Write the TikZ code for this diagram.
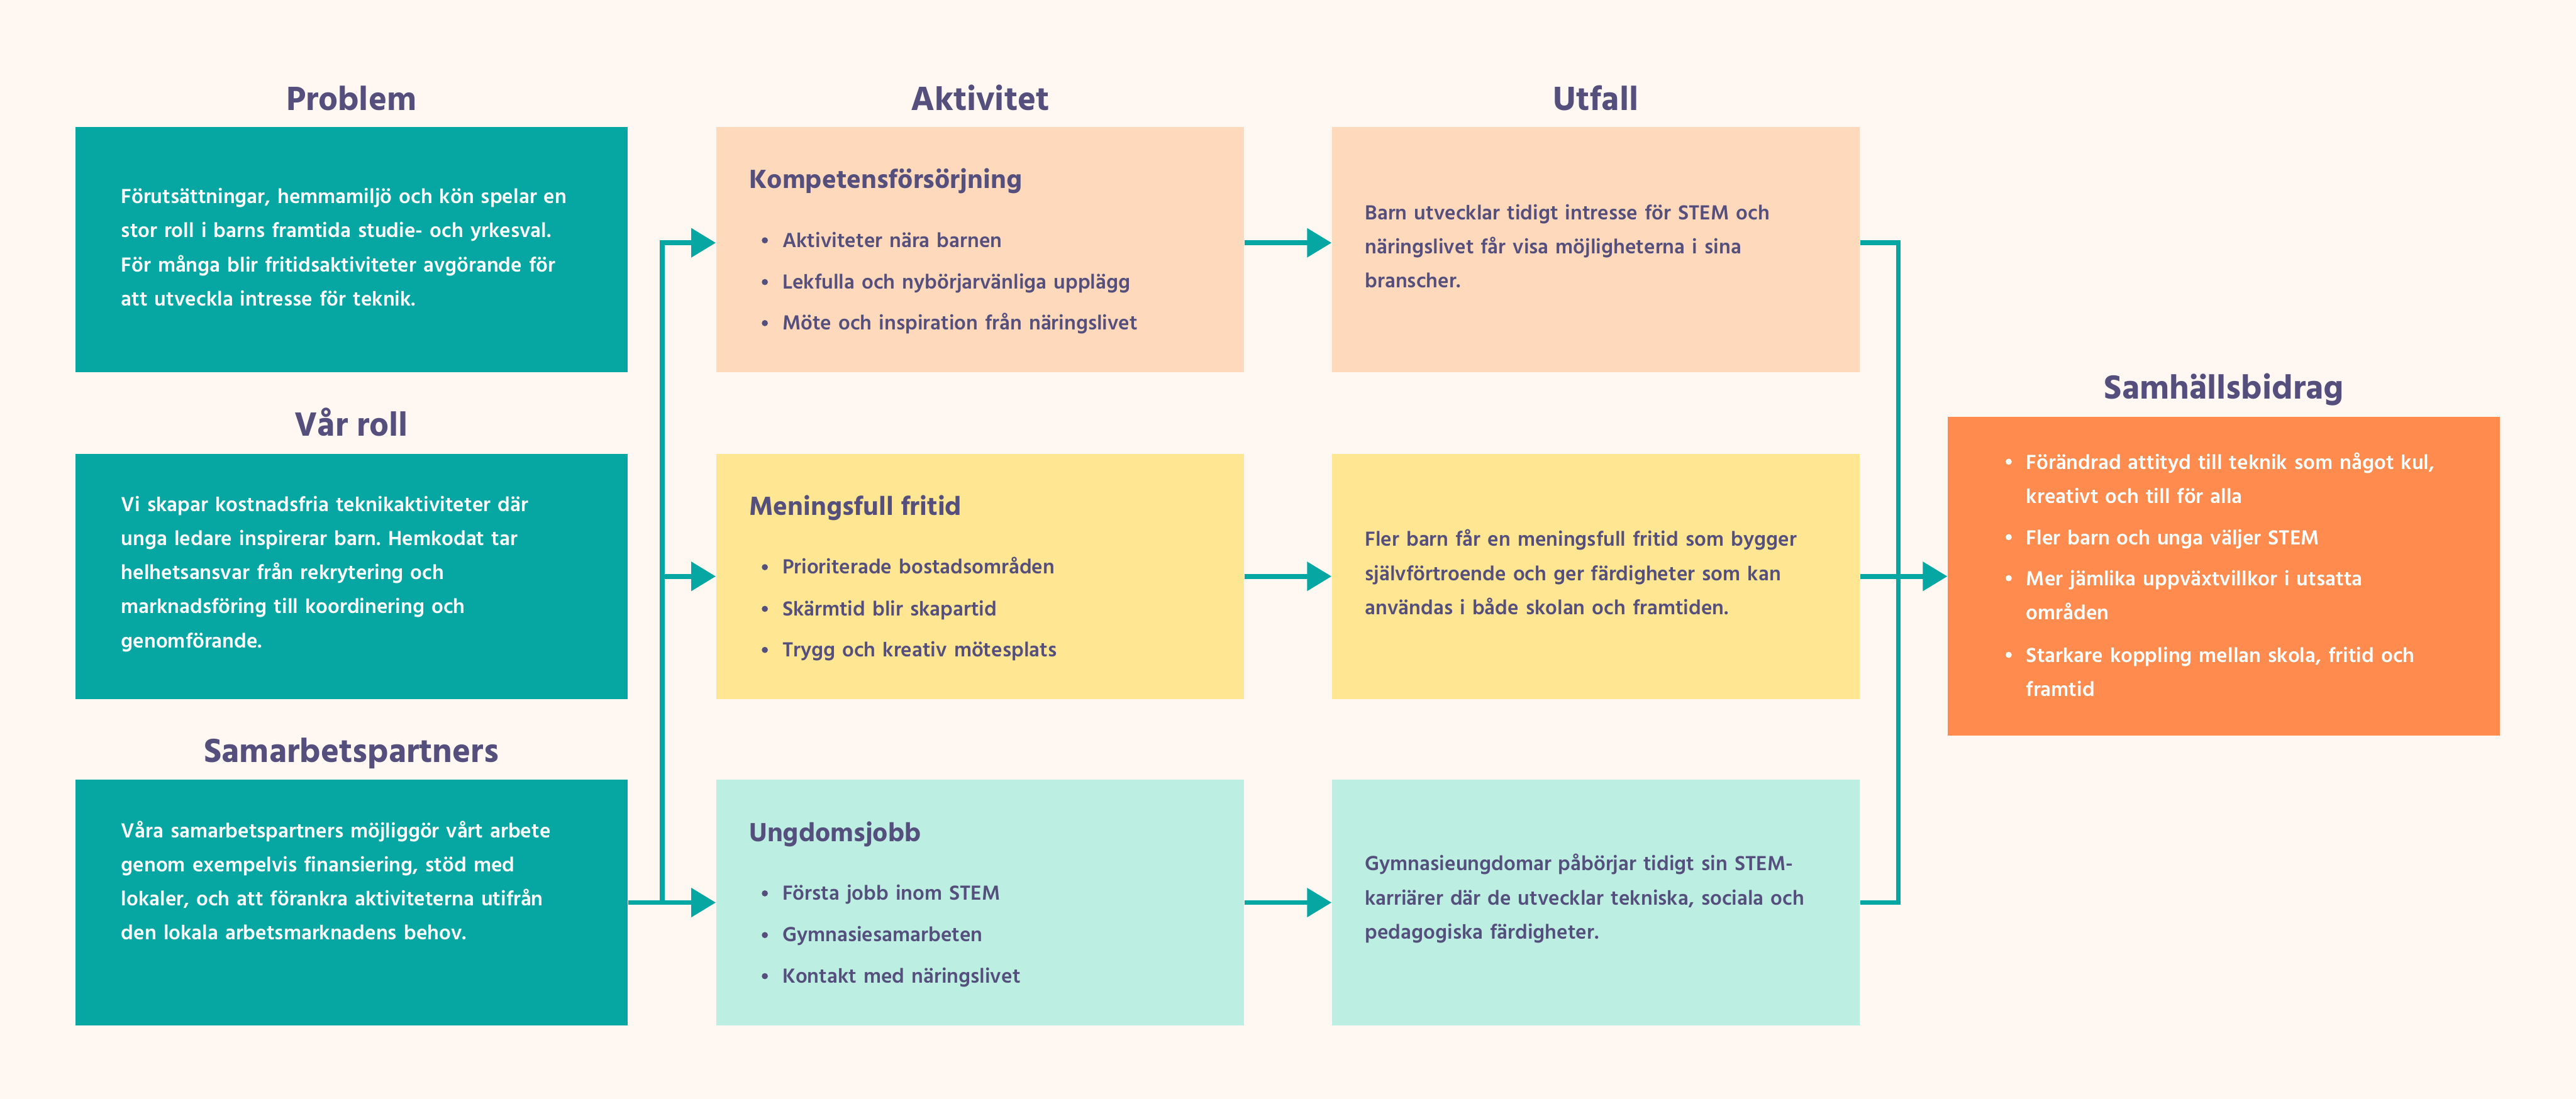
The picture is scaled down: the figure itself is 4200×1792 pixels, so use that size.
\documentclass[tikz,border=0pt]{standalone}
\usepackage{fontspec}
\setmainfont{Hind Siliguri}
\newfontfamily\semifont{Hind Siliguri SemiBold}
\newfontfamily\heavyfont{Hind Siliguri Bold}
\usetikzlibrary{arrows.meta}
\frenchspacing
\definecolor{bgc}{HTML}{FFF7F1}
\definecolor{tealc}{HTML}{06A6A3}
\definecolor{ink}{HTML}{554F7D}
\definecolor{peach}{HTML}{FED9BB}
\definecolor{sun}{HTML}{FFE692}
\definecolor{mint}{HTML}{BDEEE2}
\definecolor{orng}{HTML}{FF8C4E}
\tikzset{
  box/.style={rectangle, inner sep=0pt, draw=none},
  leftbox/.style={box, fill=tealc, minimum width=9cm, minimum height=4cm},
  midbox/.style={box, minimum width=8.6cm, minimum height=4cm},
  colhead/.style={anchor=base, inner sep=0pt, text=ink, font=\heavyfont\fontsize{16pt}{19pt}\selectfont},
  subhead/.style={anchor=base west, inner sep=0pt, text=ink, font=\heavyfont\fontsize{12.5pt}{15pt}\selectfont},
  bodytext/.style={anchor=base west, inner sep=0pt, align=left, text width=8.6cm, font=\semifont\fontsize{9.7pt}{15.8pt}\selectfont\frenchspacing},
  itemtext/.style={anchor=base west, inner sep=0pt, align=left, text width=8cm, font=\semifont\fontsize{9.7pt}{15.8pt}\selectfont\frenchspacing},
  conn/.style={draw=tealc, line width=0.08cm},
  arr/.style={conn, -{Triangle[length=0.4cm, width=0.46cm]}},
}
\begin{document}
\begin{tikzpicture}[x=0.01cm, y=-0.01cm]
\fill[bgc] (0,0) rectangle (4200,1792);
\useasboundingbox (0,0) rectangle (4200,1792);

% column headings
\node[colhead] (hp) at (573,180) {Problem};
\node[colhead] (hv) at (573,711) {Vår roll};
\node[colhead] (hs) at (573,1243) {Samarbetspartners};
\node[colhead] (ha) at (1598,180) {Aktivitet};
\node[colhead] (hu) at (2602,180) {Utfall};
\node[colhead] (hb) at (3626,651) {Samhällsbidrag};

% boxes
\node[leftbox] (p) at (573,407) {};
\node[leftbox] (v) at (573,940) {};
\node[leftbox] (s) at (573,1472) {};
\node[midbox, fill=peach] (k1) at (1598,407) {};
\node[midbox, fill=sun] (k2) at (1598,940) {};
\node[midbox, fill=mint] (k3) at (1598,1472) {};
\node[midbox, fill=peach] (o1) at (2602,407) {};
\node[midbox, fill=sun] (o2) at (2602,940) {};
\node[midbox, fill=mint] (o3) at (2602,1472) {};
\node[box, fill=orng, minimum width=9cm, minimum height=5.2cm] (sb) at (3626,940) {};

% left column texts
\node[bodytext, text=white] (tp) at (197,332) {Förutsättningar, hemmamiljö och kön spelar en\\stor roll i barns framtida studie- och yrkesval.\\För många blir fritidsaktiviteter avgörande för\\att utveckla intresse för teknik.};
\node[bodytext, text=white] (tv) at (197,834) {Vi skapar kostnadsfria teknikaktiviteter där\\unga ledare inspirerar barn. Hemkodat tar\\helhetsansvar från rekrytering och\\marknadsföring till koordinering och\\genomförande.};
\node[bodytext, text=white] (ts) at (197,1366) {Våra samarbetspartners möjliggör vårt arbete\\genom exempelvis finansiering, stöd med\\lokaler, och att förankra aktiviteterna utifrån\\den lokala arbetsmarknadens behov.};

% activity column
\node[subhead] (k1h) at (1221,307) {Kompetensförsörjning};
\node[itemtext, text=ink] (k1a) at (1275,403) {Aktiviteter nära barnen};
\node[itemtext, text=ink] (k1b) at (1275,471) {Lekfulla och nybörjarvänliga upplägg};
\node[itemtext, text=ink] (k1c) at (1275,538) {Möte och inspiration från näringslivet};
\node[subhead] (k2h) at (1221,840) {Meningsfull fritid};
\node[itemtext, text=ink] (k2a) at (1275,936) {Prioriterade bostadsområden};
\node[itemtext, text=ink] (k2b) at (1275,1004) {Skärmtid blir skapartid};
\node[itemtext, text=ink] (k2c) at (1275,1071) {Trygg och kreativ mötesplats};
\node[subhead] (k3h) at (1221,1372) {Ungdomsjobb};
\node[itemtext, text=ink] (k3a) at (1275,1468) {Första jobb inom STEM};
\node[itemtext, text=ink] (k3b) at (1275,1536) {Gymnasiesamarbeten};
\node[itemtext, text=ink] (k3c) at (1275,1603) {Kontakt med näringslivet};
\foreach \yy in {392,460,527,925,993,1060,1457,1525,1592}
  \fill[ink] (1247,\yy) circle[radius=0.05cm];

% outcome column
\node[bodytext, text=ink] (to1) at (2225,358) {Barn utvecklar tidigt intresse för STEM och\\näringslivet får visa möjligheterna i sina\\branscher.};
\node[bodytext, text=ink] (to2) at (2225,891) {Fler barn får en meningsfull fritid som bygger\\självförtroende och ger färdigheter som kan\\användas i både skolan och framtiden.};
\node[bodytext, text=ink] (to3) at (2225,1420) {Gymnasieungdomar påbörjar tidigt sin STEM-\\karriärer där de utvecklar tekniska, sociala och\\pedagogiska färdigheter.};

% societal contribution
\node[itemtext, text=white] (b1) at (3303,765) {Förändrad attityd till teknik som något kul,\\kreativt och till för alla};
\node[itemtext, text=white] (b2) at (3303,888) {Fler barn och unga väljer STEM};
\node[itemtext, text=white] (b3) at (3303,955) {Mer jämlika uppväxtvillkor i utsatta\\områden};
\node[itemtext, text=white] (b4) at (3303,1080) {Starkare koppling mellan skola, fritid och\\framtid};
\foreach \yy in {753,876,943,1068}
  \fill[white] (3275,\yy) circle[radius=0.05cm];

% connectors
\coordinate (lt) at (1080,396);
\coordinate (lm) at (1080,940);
\coordinate (lb) at (1080,1472);
\coordinate (rt) at (3095,396);
\coordinate (rm) at (3095,940);
\coordinate (rb) at (3095,1472);
\draw[arr] (lb) -- (lt) -- (lt -| k1.west);
\draw[arr] (lm) -- (lm -| k2.west);
\draw[arr] (s) -- (k3);
\draw[arr] (k1.east |- lt) -- (o1.west |- lt);
\draw[arr] (k2) -- (o2);
\draw[arr] (k3) -- (o3);
\draw[conn] (o1.east |- rt) -- (rt) -- (rb) -- (o3.east |- rb);
\draw[arr] (o2) -- (sb);
\end{tikzpicture}
\end{document}
